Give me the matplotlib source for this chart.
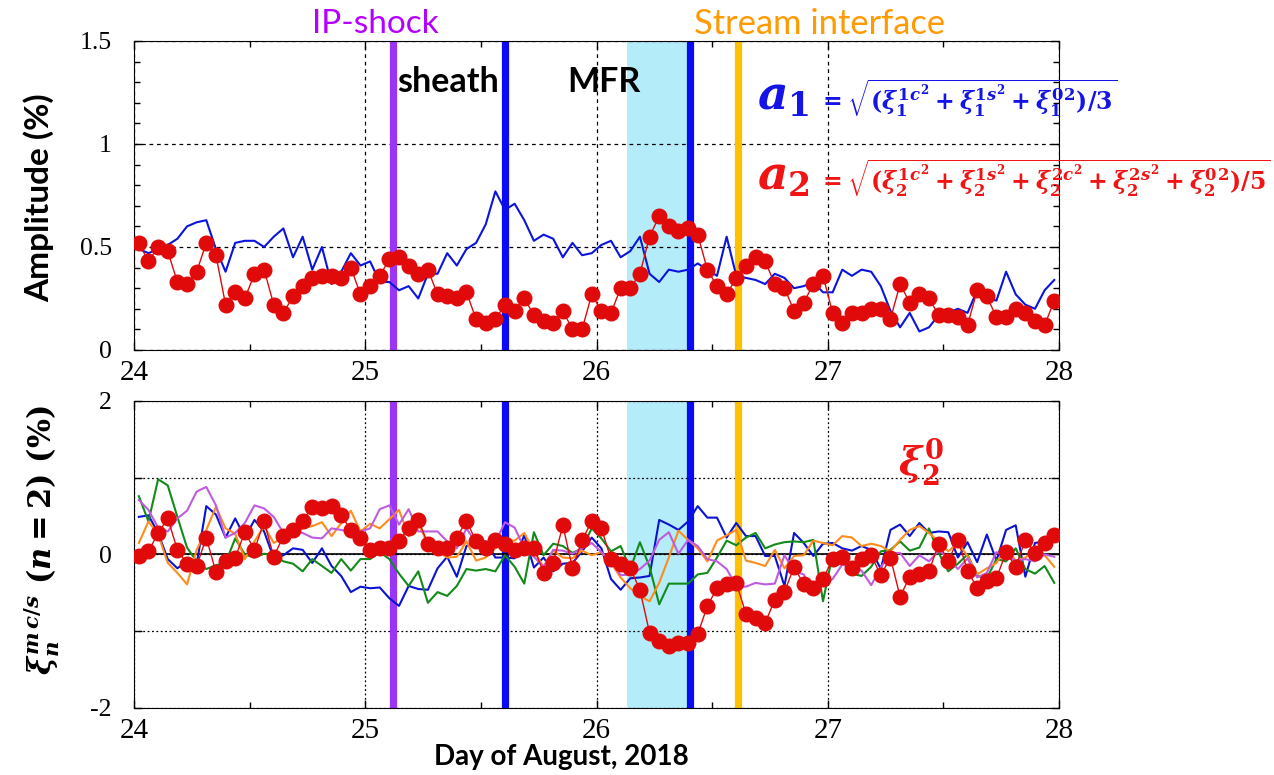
import numpy as np
import matplotlib.pyplot as plt
from matplotlib.ticker import FuncFormatter, MultipleLocator

plt.rcParams['font.family'] = 'Liberation Serif'
plt.rcParams['axes.unicode_minus'] = False
plt.rcParams['mathtext.fontset'] = 'custom'
plt.rcParams['mathtext.it'] = 'DejaVu Serif:italic:bold'
plt.rcParams['mathtext.rm'] = 'DejaVu Serif:bold'
plt.rcParams['mathtext.bf'] = 'DejaVu Serif:bold'

# hourly samples, 24-28 August 2018
hours = np.arange(96)
day = 24 + (hours + 0.5) / 24

# amplitudes (%)
a1 = [0.49, 0.47, 0.49, 0.51, 0.54, 0.60, 0.62, 0.63, 0.49, 0.38, 0.52, 0.53, 0.53, 0.50, 0.55, 0.59,
      0.45, 0.55, 0.39, 0.50, 0.32, 0.38, 0.47, 0.41, 0.43, 0.33, 0.33, 0.29, 0.31, 0.25, 0.37, 0.37,
      0.47, 0.41, 0.49, 0.52, 0.61, 0.77, 0.68, 0.71, 0.63, 0.53, 0.56, 0.54, 0.45, 0.52, 0.46, 0.47,
      0.51, 0.53, 0.45, 0.48, 0.55, 0.37, 0.33, 0.39, 0.38, 0.39, 0.42, 0.39, 0.36, 0.55, 0.36, 0.35,
      0.34, 0.32, 0.37, 0.35, 0.30, 0.31, 0.33, 0.28, 0.28, 0.39, 0.36, 0.39, 0.38, 0.31, 0.19, 0.11,
      0.18, 0.09, 0.11, 0.17, 0.18, 0.20, 0.18, 0.29, 0.25, 0.24, 0.38, 0.27, 0.22, 0.20, 0.29, 0.34]
a2 = [0.52, 0.43, 0.50, 0.48, 0.33, 0.32, 0.38, 0.52, 0.46, 0.22, 0.28, 0.25, 0.37, 0.39, 0.22, 0.18,
      0.26, 0.31, 0.35, 0.36, 0.36, 0.35, 0.40, 0.27, 0.31, 0.36, 0.44, 0.45, 0.41, 0.37, 0.39, 0.27,
      0.26, 0.25, 0.28, 0.15, 0.13, 0.15, 0.22, 0.19, 0.25, 0.17, 0.14, 0.13, 0.19, 0.10, 0.10, 0.27,
      0.19, 0.18, 0.30, 0.30, 0.37, 0.55, 0.65, 0.60, 0.58, 0.59, 0.56, 0.39, 0.31, 0.27, 0.35, 0.41,
      0.45, 0.43, 0.32, 0.30, 0.19, 0.23, 0.32, 0.36, 0.18, 0.13, 0.18, 0.18, 0.20, 0.20, 0.15, 0.32,
      0.23, 0.27, 0.25, 0.17, 0.17, 0.16, 0.12, 0.29, 0.26, 0.16, 0.16, 0.20, 0.18, 0.14, 0.12, 0.24]

# n = 2 components (%)
xi_1c = [0.49, 0.51, 0.28, -0.06, -0.18, -0.09, -0.13, 0.63, 0.52, 0.22, 0.47, 0.22, 0.45, 0.30, -0.05, -0.01,
         0.08, 0.06, -0.11, 0.08, -0.15, -0.28, -0.49, -0.42, -0.44, -0.43, -0.57, -0.67, -0.41, -0.45, -0.46, -0.18,
         -0.03, -0.29, 0.11, 0.17, 0.17, -0.04, -0.04, -0.05, 0.25, -0.17, -0.04, -0.22, -0.12, -0.11, 0.04, 0.22,
         0.08, -0.32, -0.46, -0.31, -0.30, -0.28, 0.45, 0.39, 0.32, 0.43, 0.63, 0.48, 0.48, 0.22, 0.41, 0.24,
         0.24, -0.02, -0.02, -0.41, 0.28, 0.15, -0.02, 0.14, 0.15, 0.08, 0.05, 0.11, 0.06, -0.19, 0.32, 0.39,
         0.24, 0.41, 0.28, 0.30, 0.29, -0.04, 0.16, -0.10, 0.26, -0.08, 0.32, 0.38, -0.29, 0.15, 0.17, 0.25]
xi_1s = [0.76, 0.43, 0.98, 0.90, 0.49, 0.09, -0.09, -0.19, -0.14, -0.11, 0.21, 0.00, -0.04, 0.01, -0.01, -0.09,
         -0.12, -0.22, -0.06, -0.15, -0.24, -0.06, -0.21, -0.06, -0.06, 0.03, -0.06, -0.25, -0.41, -0.22, -0.63, -0.49,
         -0.54, -0.41, -0.19, -0.21, -0.19, -0.22, -0.01, -0.16, -0.38, 0.29, -0.01, 0.14, 0.11, 0.02, 0.08, 0.34,
         0.21, 0.04, 0.11, -0.19, 0.16, -0.16, -0.65, -0.38, -0.38, -0.38, -0.26, -0.24, -0.04, 0.18, 0.12, 0.22,
         0.28, 0.08, 0.13, 0.16, 0.17, 0.16, 0.19, -0.61, 0.00, -0.09, -0.25, -0.28, -0.16, 0.04, 0.06, 0.17,
         0.05, 0.09, 0.34, 0.02, -0.22, -0.12, 0.00, -0.28, -0.31, -0.06, -0.09, 0.08, -0.19, -0.25, -0.15, -0.37]
xi_2c = [0.15, 0.43, 0.26, -0.11, -0.24, -0.39, 0.06, 0.32, 0.62, 0.34, 0.27, -0.06, 0.17, 0.37, 0.15, 0.22,
         0.30, 0.34, 0.37, 0.42, 0.24, 0.41, 0.57, 0.30, 0.40, 0.34, 0.46, 0.58, 0.24, 0.41, 0.13, 0.04,
         -0.04, -0.03, 0.17, -0.08, -0.04, 0.08, 0.19, 0.18, 0.28, 0.04, -0.16, 0.05, -0.04, -0.05, 0.05, -0.01,
         0.03, -0.11, -0.30, -0.44, -0.54, -0.61, -0.37, -0.04, 0.31, 0.19, 0.08, -0.09, 0.18, 0.25, 0.32, -0.08,
         -0.11, -0.15, 0.06, -0.18, -0.02, -0.01, 0.18, 0.15, 0.12, 0.24, 0.22, 0.11, 0.14, 0.11, 0.04, 0.19,
         0.32, 0.37, 0.28, 0.17, 0.04, 0.15, -0.02, -0.26, -0.18, -0.11, 0.08, -0.08, -0.04, 0.06, -0.01, -0.16]
xi_2s = [0.71, 0.58, 0.35, 0.30, 0.47, 0.57, 0.82, 0.88, 0.64, 0.22, 0.28, 0.41, 0.64, 0.60, 0.49, 0.28,
         0.30, 0.28, 0.22, 0.21, 0.34, 0.32, 0.29, 0.30, 0.34, 0.59, 0.64, 0.39, 0.59, 0.30, 0.30, 0.30,
         0.17, 0.08, 0.34, 0.15, 0.13, 0.16, 0.42, 0.35, 0.08, -0.03, -0.16, 0.06, 0.05, 0.01, 0.08, 0.15,
         0.03, -0.09, -0.27, -0.26, -0.19, -0.08, 0.19, 0.29, 0.01, 0.19, 0.11, -0.06, -0.09, -0.19, -0.41, -0.42,
         -0.37, -0.39, -0.38, -0.01, -0.22, -0.26, -0.51, -0.38, -0.32, -0.13, -0.17, -0.21, -0.40, -0.17, 0.02, 0.02,
         -0.15, -0.01, -0.09, 0.05, -0.04, -0.19, -0.05, -0.30, -0.24, 0.03, -0.02, -0.08, -0.06, -0.09, 0.00, -0.03]
xi_0 = [-0.02, 0.04, 0.28, 0.47, 0.06, -0.12, -0.15, 0.22, -0.23, -0.09, -0.04, 0.29, 0.06, 0.43, -0.03, 0.24,
        0.32, 0.44, 0.62, 0.61, 0.63, 0.51, 0.32, 0.21, 0.06, 0.09, 0.08, 0.18, 0.34, 0.45, 0.14, 0.09,
        0.08, 0.22, 0.44, 0.17, 0.08, 0.19, 0.13, 0.06, 0.08, 0.09, -0.24, -0.11, 0.38, -0.18, 0.19, 0.43,
        0.34, -0.06, -0.13, -0.18, -0.46, -1.02, -1.13, -1.19, -1.15, -1.15, -1.04, -0.67, -0.44, -0.39, -0.37, -0.77,
        -0.83, -0.89, -0.59, -0.49, -0.16, -0.39, -0.44, -0.32, -0.06, -0.03, -0.18, -0.06, -0.01, -0.27, -0.04, -0.55,
        -0.29, -0.26, -0.22, 0.14, -0.08, 0.19, -0.21, -0.44, -0.35, -0.31, 0.03, -0.16, 0.19, 0.02, 0.15, 0.25]

# event boundaries (day of August)
t_shock = 25.12
t_sheath_end = 25.605
t_mfr_start = 26.13
t_mfr_end = 26.405
t_interface = 26.61

RED = '#E00A0A'
BLUE = '#0A14DC'


def style_axis(ax, ylim, ystep, yminor, grid_ls):
    ax.set_xlim(24, 28)
    ax.set_ylim(*ylim)
    ax.xaxis.set_major_locator(MultipleLocator(1))
    ax.xaxis.set_minor_locator(MultipleLocator(0.5))
    ax.yaxis.set_major_locator(MultipleLocator(ystep))
    if yminor:
        ax.yaxis.set_minor_locator(MultipleLocator(yminor))
    ax.tick_params(which='both', direction='in', top=True, right=True, width=1)
    ax.tick_params(which='major', length=6)
    ax.tick_params(which='minor', length=4)
    ax.tick_params(axis='x', labelsize=21, pad=7)
    ax.tick_params(axis='y', labelsize=18.5, pad=16)
    ax.grid(True, which='major', color='black', linestyle=grid_ls, linewidth=0.9)
    ax.axvspan(t_mfr_start, t_mfr_end, color='#B4ECFA', lw=0, zorder=0.3)
    ax.axvline(t_shock, color='#9B35F5', lw=5.2, zorder=1.6)
    ax.axvline(t_sheath_end, color='#0A0AF5', lw=5.2, zorder=1.6)
    ax.axvline(t_mfr_end, color='#0A0AF5', lw=5.2, zorder=1.6)
    ax.axvline(t_interface, color='#FFC000', lw=5.2, zorder=1.6)


fig = plt.figure(figsize=(12.74, 7.75), dpi=100)
ax1 = fig.add_axes([0.1052, 0.5484, 0.7261, 0.3987])
ax2 = fig.add_axes([0.1052, 0.0865, 0.7261, 0.3961])

# top: amplitudes of the first and second harmonics
style_axis(ax1, (0, 1.5), 0.5, 0.1, (0, (3, 3)))
ax1.yaxis.set_major_formatter(FuncFormatter(lambda v, p: '%g' % v))
ax1.plot(day, a1, color=BLUE, lw=1.5, zorder=3)
ax1.plot(day, a2, color=RED, lw=1, marker='o', ms=10.5, mec=RED, zorder=4)

# bottom: individual n = 2 components
style_axis(ax2, (-2, 2), 1, None, (0, (1.5, 2)))
ax2.yaxis.set_major_formatter(FuncFormatter(lambda v, p: '%g' % v if round(v) % 2 == 0 else ''))
ax2.axhline(0, color='black', lw=1.2, zorder=1.7)
ax2.plot(day, xi_1c, color='#0A14D0', lw=1.5, zorder=3)
ax2.plot(day, xi_1s, color='#138A1A', lw=1.5, zorder=3)
ax2.plot(day, xi_2c, color='#FF8C1A', lw=1.5, zorder=3)
ax2.plot(day, xi_2s, color='#BE5CE0', lw=1.5, zorder=3)
ax2.plot(day, xi_0, color=RED, lw=1, marker='o', ms=10.5, mec=RED, zorder=4)


def fx(px):
    return px / 1274


def fy(py):
    return 1 - py / 775


sans = 'Lato'
fig.text(fx(312), fy(24), 'IP-shock', color='#B400FF', fontsize=24, family=sans, va='center')
fig.text(fx(694), fy(24), 'Stream interface', color='#FF9A00', fontsize=24.8, family=sans, va='center')
fig.text(fx(397), fy(82), 'sheath', color='black', fontsize=24.5, family=sans, weight='bold', va='center')
fig.text(fx(567), fy(82), 'MFR', color='black', fontsize=24.5, family=sans, weight='bold', va='center')

fig.text(fx(39), fy(198), 'Amplitude (%)', fontsize=24, family=sans, weight='bold',
         rotation=90, ha='center', va='center')
fig.text(fx(42), fy(540), r'$\xi_n^{m\,c/s}\ (n=2)\ (\%)$', fontsize=22,
         rotation=90, ha='center', va='center')
fig.text(fx(561), fy(757), 'Day of August, 2018', fontsize=20, family=sans, weight='bold',
         ha='center', va='center')

fig.text(fx(757), fy(110), r'$a_1$', color='#1414E6', fontsize=34, va='baseline')
fig.text(fx(818), fy(98), r'$=\sqrt{(\xi_1^{1c^2}+\xi_1^{1s^2}+{\xi_1^{0}}^{2})/3}$',
         color='#1414E6', fontsize=17, va='center')
fig.text(fx(757), fy(190), r'$a_2$', color='#F01414', fontsize=34, va='baseline')
fig.text(fx(818), fy(178),
         r'$=\sqrt{(\xi_2^{1c^2}+\xi_2^{1s^2}+\xi_2^{2c^2}+\xi_2^{2s^2}+{\xi_2^{0}}^{2})/5}$',
         color='#F01414', fontsize=17, va='center')
fig.text(fx(898), fy(462), r'$\xi_2^0$', color='#F01414', fontsize=28, va='center')

fig.savefig('out.png', dpi=100)
